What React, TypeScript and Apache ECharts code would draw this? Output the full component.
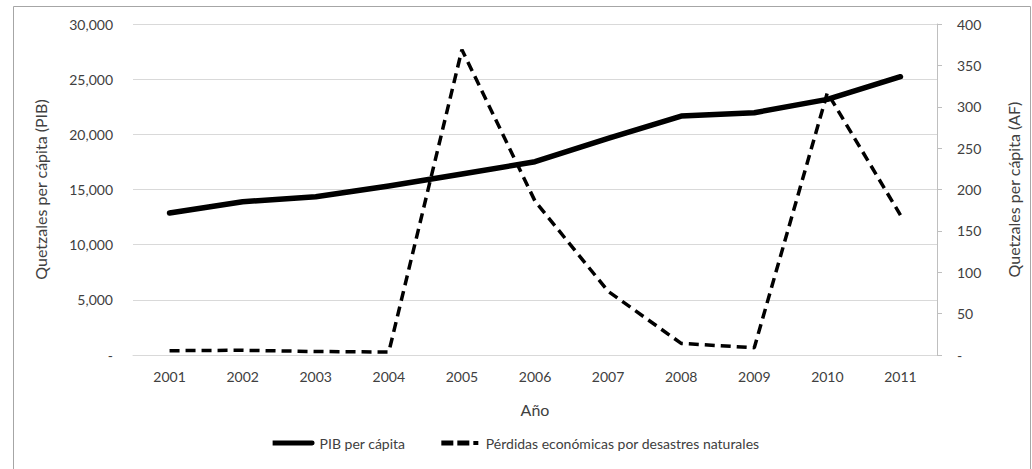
import React, { useEffect, useRef } from "react";
import * as echarts from "echarts";

const years = ["2001", "2002", "2003", "2004", "2005", "2006", "2007", "2008", "2009", "2010", "2011"];
const pibPerCapita = [12870, 13890, 14350, 15320, 16400, 17520, 19640, 21660, 21960, 23170, 25220];
const perdidas = [5.2, 5.7, 4.2, 3.6, 369, 186, 77, 14, 8.8, 317, 169];

const seriesNames = ["PIB per cápita", "Pérdidas económicas por desastres naturales"];
const leftAxisName = "Quetzales per cápita (PIB)";
const rightAxisName = "Quetzales per cápita (AF)";
const xAxisName = "Año";

const FONT = "Lato, 'Open Sans', sans-serif";
const TEXT = "#404040";

function fmt(v: number): string {
  if (v === 0) return "-";
  return v.toLocaleString("en-US");
}

export default function App() {
  const ref = useRef<HTMLDivElement>(null);
  useEffect(() => {
    if (!ref.current) return;
    const chart = echarts.init(ref.current, undefined, { renderer: "svg" });
    chart.setOption({
      animation: false,
      backgroundColor: "#ffffff",
      textStyle: { fontFamily: FONT, color: TEXT },
      graphic: [
        {
          type: "rect",
          shape: { x: 13.5, y: 6.5, width: 1017, height: 470 },
          style: { fill: "none", stroke: "#a6a6a6", lineWidth: 1 },
          silent: true,
          z: -1,
        },
      ],
      grid: { left: 133, right: 95, top: 24, bottom: 114 },
      legend: {
        bottom: 14,
        left: "center",
        itemGap: 36,
        itemWidth: 42,
        itemHeight: 5,
        textStyle: { fontFamily: FONT, fontSize: 14, color: TEXT },
        data: [
          { name: seriesNames[0], icon: "path://M0,0 H40 A2.5,2.5 0 0 1 40,5 H0 Z", itemStyle: { color: "#000" } },
          {
            name: seriesNames[1],
            icon: "path://M0,0 H12 V5 H0 Z M16,0 H28 V5 H16 Z M32,0.5 H37 V4.5 H32 Z",
            itemStyle: { color: "#000" },
          },
        ],
      },
      xAxis: {
        type: "category",
        data: years,
        boundaryGap: true,
        name: xAxisName,
        nameLocation: "middle",
        nameGap: 46,
        nameTextStyle: { fontFamily: FONT, fontSize: 16, color: TEXT },
        axisLine: { show: true, lineStyle: { color: "#d9d9d9", width: 1 } },
        axisTick: { show: false },
        axisLabel: { margin: 14, fontFamily: FONT, fontSize: 14, color: TEXT },
      },
      yAxis: [
        {
          type: "value",
          min: 0,
          max: 30000,
          interval: 5000,
          name: leftAxisName,
          nameLocation: "middle",
          nameGap: 85,
          nameTextStyle: { fontFamily: FONT, fontSize: 16, color: TEXT },
          axisLine: { show: false },
          axisTick: { show: false },
          axisLabel: { margin: 20, fontFamily: FONT, fontSize: 14, color: TEXT, formatter: fmt },
          splitLine: { lineStyle: { color: "#d9d9d9", width: 1 } },
        },
        {
          type: "value",
          min: 0,
          max: 400,
          interval: 50,
          position: "right",
          name: rightAxisName,
          nameLocation: "middle",
          nameGap: 68,
          nameRotate: 90,
          nameTextStyle: { fontFamily: FONT, fontSize: 16, color: TEXT },
          axisLine: { show: true, lineStyle: { color: "#bfbfbf", width: 1 } },
          axisTick: { show: true, length: 5, lineStyle: { color: "#bfbfbf" } },
          axisLabel: { margin: 20, fontFamily: FONT, fontSize: 14, color: TEXT, formatter: fmt },
          splitLine: { show: false },
        },
      ],
      series: [
        {
          name: seriesNames[0],
          type: "line",
          yAxisIndex: 0,
          data: pibPerCapita,
          showSymbol: false,
          symbol: "none",
          lineStyle: { color: "#000000", width: 5.5, cap: "round", join: "round" },
          itemStyle: { color: "#000000" },
          z: 3,
        },
        {
          name: seriesNames[1],
          type: "line",
          yAxisIndex: 1,
          data: perdidas,
          showSymbol: false,
          symbol: "none",
          lineStyle: { color: "#000000", width: 3.5, type: [10, 6] },
          itemStyle: { color: "#000000" },
          z: 2,
        },
      ],
    });
    return () => chart.dispose();
  }, []);
  return (
    <div
      ref={ref}
      style={{ position: "absolute", left: 0, top: 0, width: 1032, height: 469 }}
    />
  );
}
